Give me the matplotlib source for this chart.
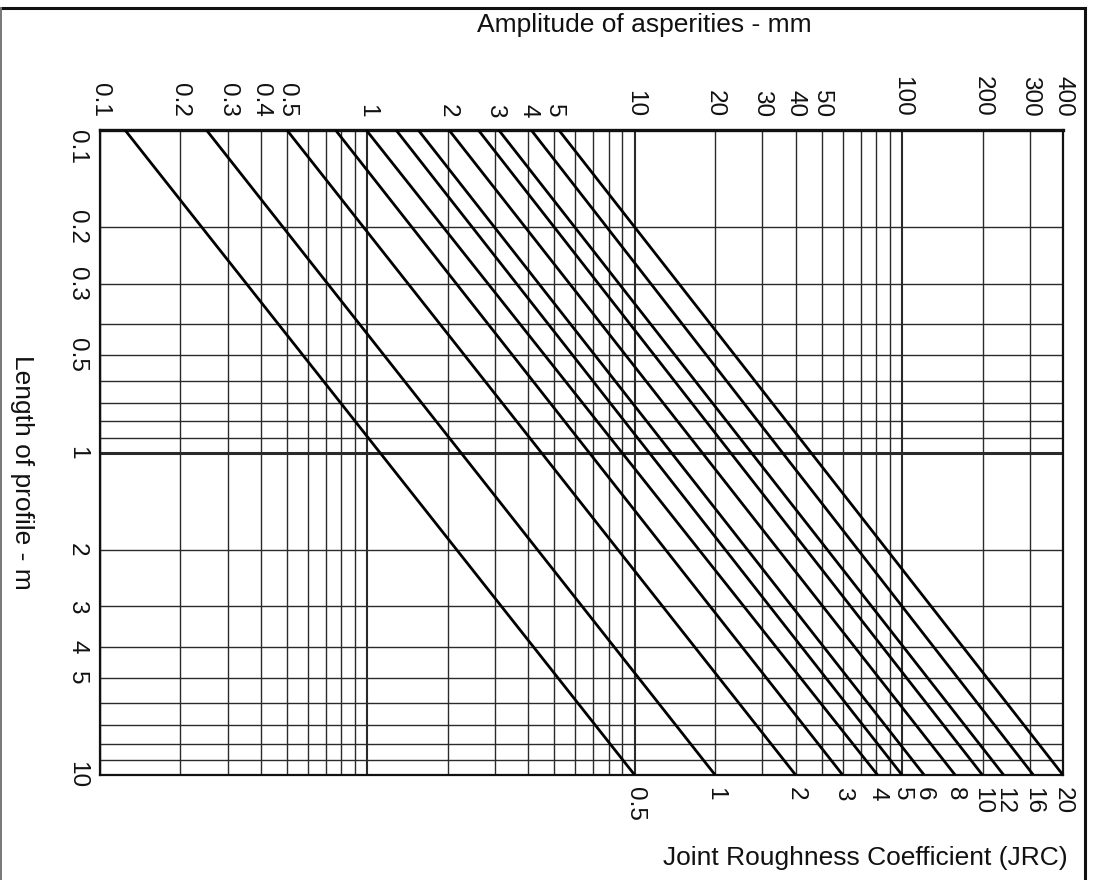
import matplotlib
matplotlib.use("Agg")
import matplotlib.pyplot as plt
from matplotlib.lines import Line2D
from matplotlib.ticker import NullLocator

plt.rcParams['font.family'] = ['Liberation Sans', 'DejaVu Sans']

# JRC lines: amplitude of asperities (mm) at the two ends of the length axis
jrc_labels = ["0.5", "1", "2", "3", "4", "5", "6", "8", "10", "12", "16", "20"]
amp_at_short = [0.124, 0.25, 0.50, 0.76, 0.99, 1.28, 1.55, 2.02, 2.6, 3.1, 4.1, 5.2]   # L = 0.1 m
amp_at_long = [10, 20, 40, 60, 81, 100, 121, 158, 200, 240, 310, 400]                 # L = 10 m
length_ends = [0.1, 10]

amp_ticks = [0.1, 0.2, 0.3, 0.4, 0.5, 1, 2, 3, 4, 5, 10, 20, 30, 40, 50, 100, 200, 300, 400]
amp_tick_labels = ["0.1", "0.2", "0.3", "0.4", "0.5", "1", "2", "3", "4", "5",
                   "10", "20", "30", "40", "50", "100", "200", "300", "400"]
length_ticks = [0.1, 0.2, 0.3, 0.5, 1, 2, 3, 4, 5, 10]
length_tick_labels = ["0.1", "0.2", "0.3", "0.5", "1", "2", "3", "4", "5", "10"]

W, H = 1094, 880
PX = 72 / 100  # points per pixel at dpi 100

fig = plt.figure(figsize=(W / 100, H / 100), dpi=100)
ax = fig.add_axes([100 / W, 1 - 775 / H, 963 / W, 645 / H])
ax.set_xscale('log')
ax.set_yscale('log')
ax.set_xlim(0.1, 400)
ax.set_ylim(10, 0.1)
for axis in (ax.xaxis, ax.yaxis):
    axis.set_major_locator(NullLocator())
    axis.set_minor_locator(NullLocator())

grid_col = '#2a2a2a'

# log grid: vertical lines for amplitude, horizontal for length
amp_grid = [m * d for d in (0.1, 1, 10) for m in range(1, 10)] + [100, 200, 300, 400]
len_grid = [m * d for d in (0.1, 1) for m in range(1, 10)] + [10]
for v in amp_grid:
    lw = 1.5 if v in (1, 10, 100) else 1.0
    ax.axvline(v, color=grid_col, lw=lw, zorder=1)
for v in len_grid:
    lw = 2.2 if v == 1 else 1.0
    ax.axhline(v, color=grid_col, lw=lw, zorder=1)

for s in ax.spines.values():
    s.set_color('#111111')
    s.set_linewidth(1.6)
ax.spines['top'].set_linewidth(2.4)

# JRC lines
for a0, a1 in zip(amp_at_short, amp_at_long):
    ax.plot([a0, a1], length_ends, color='black', lw=2.0, solid_capstyle='butt', zorder=3)

fs = 17.5
for v, lab in zip(amp_ticks, amp_tick_labels):
    ax.annotate(lab, xy=(v, 1), xycoords=('data', 'axes fraction'),
                xytext=(0, 13 * PX), textcoords='offset points',
                rotation=270, ha='center', va='bottom', fontsize=fs, color='#111111')

for v, lab in zip(length_ticks, length_tick_labels):
    ax.annotate(lab, xy=(0, v), xycoords=('axes fraction', 'data'),
                xytext=(-12 * PX, 0), textcoords='offset points',
                rotation=270, ha='right', va='top' if v == 0.1 else 'center',
                fontsize=fs, color='#111111')

for v, lab in zip(amp_at_long, jrc_labels):
    ax.annotate(lab, xy=(v, 0), xycoords=('data', 'axes fraction'),
                xytext=(0, -12 * PX), textcoords='offset points',
                rotation=270, ha='center', va='top', fontsize=fs, color='#111111')

fig.text(644 / W, 1 - 25 / H, "Amplitude of asperities - mm", ha='center', va='center',
         fontsize=19, color='#111111')
fig.text(22 / W, 1 - 472 / H, "Length of profile - m", ha='center', va='center',
         rotation=270, fontsize=19, color='#111111')
fig.text(1068 / W, 1 - 858 / H, "Joint Roughness Coefficient (JRC)", ha='right', va='center',
         fontsize=19, color='#111111')

# page frame
fig.add_artist(Line2D([1 / W, 1085 / W], [1 - 8 / H, 1 - 8 / H], transform=fig.transFigure,
                      color='#111111', lw=2.2))
fig.add_artist(Line2D([1085 / W, 1085 / W], [1 - 8 / H, 0], transform=fig.transFigure,
                      color='#111111', lw=2.2))
fig.add_artist(Line2D([1 / W, 1 / W], [1 - 8 / H, 0], transform=fig.transFigure,
                      color='#777777', lw=1.4))

fig.savefig('out.png', dpi=100, facecolor='white')
